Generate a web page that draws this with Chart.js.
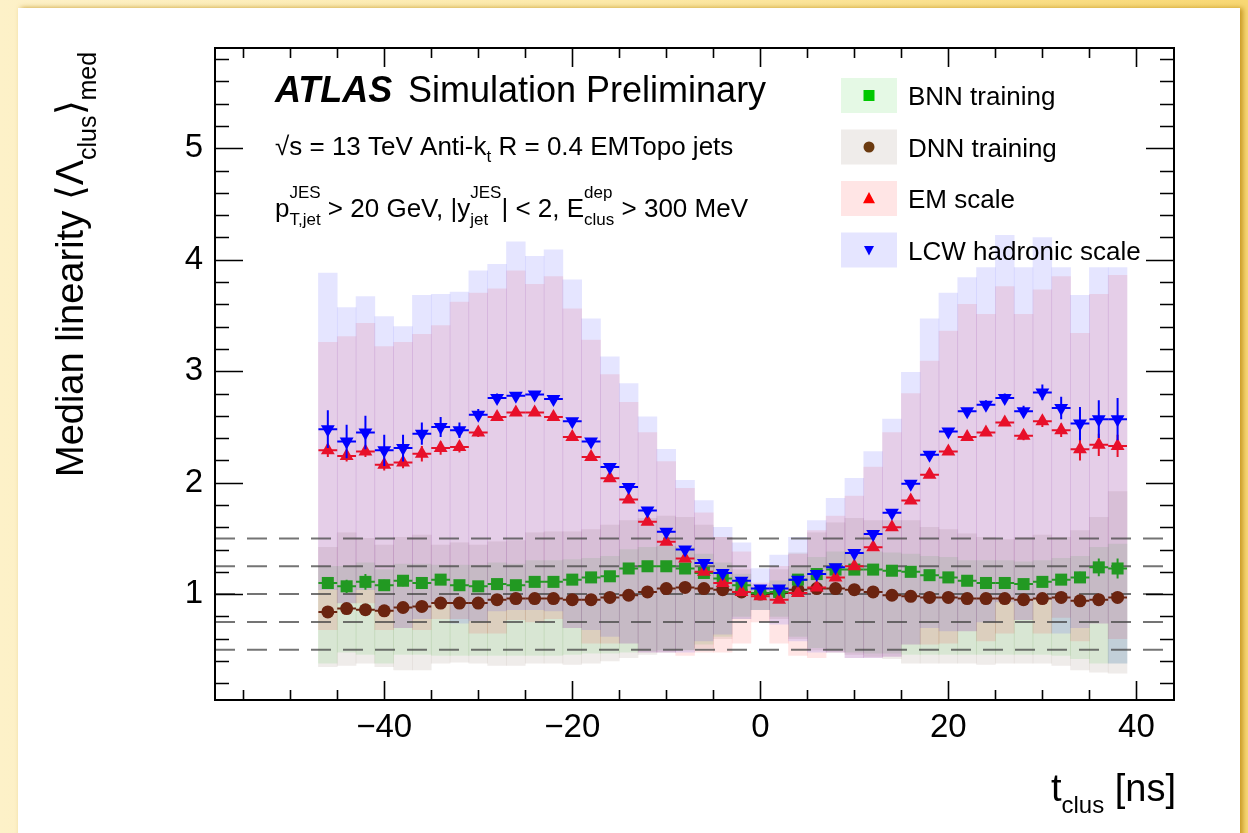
<!DOCTYPE html>
<html>
<head>
<meta charset="utf-8">
<title>Median linearity vs cluster time</title>
<script src="https://cdn.jsdelivr.net/npm/chart.js@4.4.1/dist/chart.umd.min.js"></script>
<style>
  html, body { margin: 0; padding: 0; }
  body {
    width: 1248px; height: 833px; overflow: hidden; position: relative;
    background: linear-gradient(90deg, #fdf1c8 0%, #fce9a8 50%, #f8d874 100%);
  }
  #panel {
    position: absolute; left: 18px; top: 8px; width: 1222px; height: 840px;
    background: #fff; box-shadow: 3px 0 5px rgba(190, 140, 20, 0.85);
  }
  #chart { position: absolute; left: 0; top: 0; }
</style>
</head>
<body>
<div id="panel"></div>
<canvas id="chart" width="1248" height="833"></canvas>
<script>
'use strict';

const FONT = "'Liberation Sans', Arial, Helvetica, sans-serif";

/* ── cluster-time bins (centres, ns) ── */
const binCentres = [
    -46, -44, -42, -40, -38, -36, -34, -32, -30, -28, -26,
    -24, -22, -20, -18, -16, -14, -12, -10, -8, -6, -4,
    -2, 0, 2, 4, 6, 8, 10, 12, 14, 16, 18,
    20, 22, 24, 26, 28, 30, 32, 34, 36, 38,
];
const binHalfWidth = 1;

/* ── medians + stat. errors ── */
const bnnMedian = [
    1.10, 1.07, 1.11, 1.08, 1.12, 1.10, 1.13, 1.08, 1.07, 1.09, 1.08,
    1.11, 1.11, 1.13, 1.15, 1.16, 1.23, 1.25, 1.25, 1.23, 1.19, 1.14,
    1.08, 1.01, 1.02, 1.13, 1.18, 1.22, 1.22, 1.22, 1.21, 1.20, 1.17,
    1.15, 1.12, 1.10, 1.10, 1.09, 1.11, 1.13, 1.15, 1.24, 1.23,
];
const bnnErr = [
    0.05, 0.06, 0.07, 0.05, 0.05, 0.04, 0.04, 0.03, 0.03, 0.03, 0.02,
    0.02, 0.02, 0.02, 0.02, 0.02, 0.02, 0.02, 0.02, 0.02, 0.02, 0.02,
    0.02, 0.02, 0.02, 0.02, 0.02, 0.02, 0.02, 0.02, 0.02, 0.02, 0.02,
    0.02, 0.02, 0.02, 0.02, 0.02, 0.03, 0.04, 0.05, 0.08, 0.09,
];
const dnnMedian = [
    0.84, 0.87, 0.86, 0.85, 0.88, 0.89, 0.92, 0.92, 0.92, 0.95, 0.96,
    0.96, 0.96, 0.95, 0.95, 0.97, 0.99, 1.02, 1.05, 1.06, 1.05, 1.04,
    1.02, 1.00, 1.01, 1.04, 1.05, 1.05, 1.04, 1.02, 0.99, 0.98, 0.97,
    0.97, 0.96, 0.96, 0.96, 0.95, 0.96, 0.97, 0.94, 0.95, 0.97,
];
const dnnErr = [
    0.03, 0.03, 0.03, 0.02, 0.02, 0.02, 0.02, 0.02, 0.02, 0.02, 0.02,
    0.02, 0.02, 0.02, 0.02, 0.02, 0.02, 0.02, 0.02, 0.02, 0.02, 0.02,
    0.02, 0.02, 0.02, 0.02, 0.02, 0.02, 0.02, 0.02, 0.02, 0.02, 0.02,
    0.02, 0.02, 0.02, 0.02, 0.02, 0.02, 0.03, 0.05, 0.04, 0.05,
];
const emMedian = [
    2.29, 2.24, 2.28, 2.16, 2.18, 2.26, 2.31, 2.32, 2.45, 2.59, 2.63,
    2.63, 2.59, 2.41, 2.23, 2.04, 1.85, 1.65, 1.47, 1.32, 1.20, 1.10,
    1.02, 0.98, 0.95, 1.01, 1.06, 1.15, 1.25, 1.42, 1.60, 1.84, 2.07,
    2.28, 2.41, 2.45, 2.54, 2.42, 2.55, 2.47, 2.30, 2.34, 2.33,
];
const emErr = [
    0.06, 0.05, 0.05, 0.05, 0.05, 0.07, 0.06, 0.05, 0.04, 0.03, 0.03,
    0.02, 0.02, 0.02, 0.02, 0.02, 0.02, 0.02, 0.02, 0.02, 0.02, 0.02,
    0.02, 0.02, 0.02, 0.02, 0.02, 0.02, 0.02, 0.02, 0.02, 0.02, 0.02,
    0.02, 0.03, 0.03, 0.03, 0.04, 0.05, 0.06, 0.10, 0.10, 0.10,
];
const lcwMedian = [
    2.48, 2.37, 2.45, 2.29, 2.31, 2.44, 2.50, 2.47, 2.61, 2.76, 2.78,
    2.79, 2.75, 2.55, 2.37, 2.14, 1.96, 1.75, 1.56, 1.40, 1.28, 1.19,
    1.12, 1.05, 1.05, 1.13, 1.18, 1.24, 1.37, 1.54, 1.73, 1.99, 2.25,
    2.46, 2.64, 2.70, 2.76, 2.64, 2.81, 2.67, 2.53, 2.57, 2.57,
];
const lcwErr = [
    0.17, 0.15, 0.15, 0.14, 0.12, 0.10, 0.09, 0.07, 0.05, 0.04, 0.03,
    0.03, 0.03, 0.03, 0.03, 0.03, 0.02, 0.02, 0.02, 0.02, 0.02, 0.02,
    0.02, 0.02, 0.02, 0.02, 0.02, 0.02, 0.02, 0.02, 0.02, 0.02, 0.03,
    0.03, 0.03, 0.04, 0.04, 0.05, 0.07, 0.10, 0.15, 0.17, 0.19,
];

/* ── spread bands (lower / upper edge per bin) ── */
const bnnBandLo = [
    0.38, 0.48, 0.46, 0.38, 0.46, 0.46, 0.45, 0.45, 0.45, 0.45, 0.45,
    0.45, 0.45, 0.46, 0.47, 0.47, 0.48, 0.49, 0.50, 0.50, 0.55, 0.62,
    0.80, 0.86, 0.80, 0.62, 0.52, 0.50, 0.48, 0.47, 0.47, 0.46, 0.46,
    0.46, 0.46, 0.46, 0.46, 0.46, 0.46, 0.45, 0.42, 0.38, 0.38,
];
const bnnBandHi = [
    1.25, 1.25, 1.28, 1.22, 1.27, 1.27, 1.26, 1.26, 1.26, 1.28, 1.27,
    1.30, 1.30, 1.31, 1.32, 1.34, 1.40, 1.42, 1.43, 1.42, 1.36, 1.28,
    1.18, 1.06, 1.12, 1.25, 1.33, 1.38, 1.38, 1.38, 1.37, 1.36, 1.34,
    1.33, 1.30, 1.30, 1.30, 1.29, 1.30, 1.32, 1.34, 1.42, 1.45,
];
const dnnBandLo = [
    0.35, 0.36, 0.38, 0.35, 0.32, 0.32, 0.38, 0.39, 0.38, 0.36, 0.36,
    0.38, 0.38, 0.37, 0.38, 0.40, 0.43, 0.46, 0.48, 0.50, 0.52, 0.60,
    0.78, 0.86, 0.78, 0.60, 0.50, 0.48, 0.46, 0.44, 0.42, 0.38, 0.38,
    0.38, 0.38, 0.37, 0.38, 0.38, 0.38, 0.36, 0.32, 0.30, 0.29,
];
const dnnBandHi = [
    1.42, 1.55, 1.50, 1.44, 1.51, 1.53, 1.44, 1.46, 1.44, 1.47, 1.48,
    1.55, 1.56, 1.56, 1.58, 1.62, 1.66, 1.68, 1.70, 1.69, 1.62, 1.51,
    1.22, 1.08, 1.22, 1.37, 1.55, 1.64, 1.68, 1.66, 1.66, 1.66, 1.60,
    1.58, 1.54, 1.51, 1.49, 1.51, 1.53, 1.51, 1.57, 1.69, 1.92,
];
const emBandLo = [
    0.68, 0.92, 0.92, 0.68, 0.70, 0.68, 0.78, 0.78, 0.65, 0.65, 0.77,
    0.75, 0.78, 0.70, 0.56, 0.56, 0.56, 0.48, 0.48, 0.45, 0.48, 0.48,
    0.56, 0.75, 0.56, 0.45, 0.43, 0.48, 0.43, 0.43, 0.44, 0.55, 0.55,
    0.56, 0.67, 0.58, 0.65, 0.77, 0.65, 0.79, 0.58, 0.74, 0.60,
];
const emBandHi = [
    3.26, 3.31, 3.43, 3.22, 3.26, 3.33, 3.41, 3.62, 3.70, 3.74, 3.90,
    3.78, 3.85, 3.56, 3.28, 2.97, 2.72, 2.45, 2.19, 1.95, 1.73, 1.51,
    1.38, 1.10, 1.25, 1.36, 1.57, 1.70, 1.88, 2.14, 2.45, 2.80, 3.09,
    3.36, 3.60, 3.51, 3.76, 3.51, 3.73, 3.85, 3.34, 3.69, 3.86,
];
const lcwBandLo = [
    1.04, 0.92, 1.04, 0.86, 0.70, 0.78, 0.92, 0.74, 0.76, 0.85, 0.86,
    0.86, 0.85, 0.70, 0.68, 0.62, 0.56, 0.48, 0.48, 0.48, 0.58, 0.64,
    0.78, 0.86, 0.73, 0.58, 0.48, 0.48, 0.43, 0.43, 0.44, 0.55, 0.70,
    0.67, 0.67, 0.75, 0.93, 0.77, 0.95, 0.65, 0.70, 0.74, 0.38,
];
const lcwBandHi = [
    3.88, 3.57, 3.67, 3.49, 3.40, 3.68, 3.69, 3.71, 3.90, 3.96, 4.16,
    4.03, 4.09, 3.82, 3.47, 3.13, 2.89, 2.59, 2.30, 2.02, 1.84, 1.60,
    1.46, 1.23, 1.35, 1.51, 1.66, 1.86, 2.04, 2.28, 2.57, 2.99, 3.47,
    3.70, 3.84, 3.93, 4.22, 3.93, 4.20, 3.93, 3.68, 3.93, 3.93,
];

/* ── axes ── */
const xMin = -58, xMax = 44;
const yMin = 0.05, yMax = 5.9;
const xMajorTicks = [-40, -20, 0, 20, 40];
const yMajorTicks = [1, 2, 3, 4, 5];
const xMinorStep = 5, yMinorStep = 0.2;
const refLines = [0.5, 0.75, 1, 1.25, 1.5];

const legendLabels = ['BNN training', 'DNN training', 'EM scale', 'LCW hadronic scale'];

const COLORS = {
    bnn: '#229922', dnn: '#6b2410', em: '#e8102a', lcw: '#0000ff',
    bnnKey: '#00c800', dnnKey: '#6b3a10', emKey: '#ff0000', lcwKey: '#0000ff',
    bnnBand: 'rgba(0, 200, 0, 0.10)',
    dnnBand: 'rgba(110, 80, 60, 0.11)',
    emBand: 'rgba(255, 0, 0, 0.10)',
    lcwBand: 'rgba(0, 0, 255, 0.10)',
    dash: 'rgba(70, 70, 70, 0.75)',
};

/* ── dataset builders ── */
function bandDataset(label, lo, hi, color) {
    return {
        type: 'bar', label,
        data: binCentres.map((x, i) => ({ x, y: [lo[i], hi[i]] })),
        backgroundColor: color, borderWidth: 0,
        grouped: false, barPercentage: 1, categoryPercentage: 1,
        order: 10,
    };
}

function pointDataset(label, med, err, color, style, radius, rotation, order) {
    return {
        type: 'scatter', label,
        data: binCentres.map((x, i) => ({ x, y: med[i] })),
        yErr: err,
        borderColor: color, backgroundColor: color,
        pointStyle: style, pointRadius: radius, pointRotation: rotation,
        pointBorderWidth: 0, showLine: false, order,
    };
}

const refDatasets = refLines.map(v => ({
    type: 'line',
    data: [{ x: xMin, y: v }, { x: xMax, y: v }],
    borderColor: COLORS.dash, borderWidth: 2, borderDash: [20, 12],
    pointRadius: 0, order: 6,
}));

/* ── error bars: drawn just before each marker set ── */
const errorBars = {
    id: 'errorBars',
    beforeDatasetDraw(chart, args) {
        const ds = chart.data.datasets[args.index];
        if (!ds.yErr) return;
        const xs = chart.scales.x, ys = chart.scales.y, ctx = chart.ctx;
        ctx.save();
        ctx.strokeStyle = ds.borderColor;
        ctx.lineWidth = 2;
        ds.data.forEach((p, i) => {
            const px = xs.getPixelForValue(p.x), py = ys.getPixelForValue(p.y);
            ctx.beginPath();
            ctx.moveTo(xs.getPixelForValue(p.x - binHalfWidth), py);
            ctx.lineTo(xs.getPixelForValue(p.x + binHalfWidth), py);
            ctx.moveTo(px, ys.getPixelForValue(p.y - ds.yErr[i]));
            ctx.lineTo(px, ys.getPixelForValue(p.y + ds.yErr[i]));
            ctx.stroke();
        });
        ctx.restore();
    },
};

/* ── text with sub/superscripts ── */
function rich(ctx, runs, x, y, draw) {
    let cx = x;
    for (const r of runs) {
        ctx.font = r.font;
        if (r.sup !== undefined || r.sub !== undefined) {
            const w1 = r.sup ? ctx.measureText(r.sup).width : 0;
            const w2 = r.sub ? ctx.measureText(r.sub).width : 0;
            if (draw && r.sup) ctx.fillText(r.sup, cx, y - r.rise);
            if (draw && r.sub) ctx.fillText(r.sub, cx, y + r.drop);
            cx += Math.max(w1, w2);
        } else {
            if (draw) ctx.fillText(r.text, cx, y + (r.dy || 0));
            cx += ctx.measureText(r.text).width;
        }
    }
    return cx - x;
}

function marker(ctx, kind, x, y, s, color) {
    ctx.fillStyle = color;
    ctx.beginPath();
    if (kind === 'rect') ctx.rect(x - s / 2, y - s / 2, s, s);
    else if (kind === 'circle') ctx.arc(x, y, s / 2, 0, Math.PI * 2);
    else if (kind === 'up') { ctx.moveTo(x, y - s * 0.55); ctx.lineTo(x + s / 2, y + s * 0.4); ctx.lineTo(x - s / 2, y + s * 0.4); }
    else { ctx.moveTo(x, y + s * 0.55); ctx.lineTo(x + s / 2, y - s * 0.4); ctx.lineTo(x - s / 2, y - s * 0.4); }
    ctx.closePath();
    ctx.fill();
}

/* ── frame, inward ticks, labels and key ── */
const decorations = {
    id: 'decorations',
    afterDraw(chart) {
        const { ctx, chartArea: a } = chart;
        const xs = chart.scales.x, ys = chart.scales.y;
        ctx.save();

        // frame + ticks
        ctx.strokeStyle = '#000';
        ctx.lineWidth = 2;
        ctx.strokeRect(a.left, a.top, a.right - a.left, a.bottom - a.top);
        ctx.lineWidth = 1.6;
        ctx.beginPath();
        for (let v = Math.ceil(yMin / yMinorStep) * yMinorStep; v < yMax; v += yMinorStep) {
            const major = Math.abs(v - Math.round(v)) < 1e-6;
            const len = major ? 28 : 14;
            const py = Math.round(ys.getPixelForValue(v)) + 0.5;
            ctx.moveTo(a.left, py); ctx.lineTo(a.left + len, py);
            ctx.moveTo(a.right, py); ctx.lineTo(a.right - len, py);
        }
        for (let v = Math.ceil(xMin / xMinorStep) * xMinorStep; v < xMax; v += xMinorStep) {
            const len = xMajorTicks.includes(v) ? 19 : 10;
            const px = Math.round(xs.getPixelForValue(v)) + 0.5;
            ctx.moveTo(px, a.bottom); ctx.lineTo(px, a.bottom - len);
            ctx.moveTo(px, a.top); ctx.lineTo(px, a.top + len);
        }
        ctx.stroke();

        ctx.fillStyle = '#000';
        ctx.textBaseline = 'alphabetic';
        ctx.textAlign = 'left';

        // experiment label
        ctx.font = `italic bold 36px ${FONT}`;
        ctx.fillText('ATLAS', 275, 102);
        ctx.font = `36px ${FONT}`;
        ctx.fillText('Simulation Preliminary', 408, 102);

        const f26 = `26px ${FONT}`, f17 = `17px ${FONT}`;
        rich(ctx, [
            { text: '\u221As = 13 TeV Anti-k', font: f26 },
            { sub: 't', font: f17, drop: 7 },
            { text: ' R = 0.4 EMTopo jets', font: f26 },
        ], 275, 155, true);
        rich(ctx, [
            { text: 'p', font: f26 },
            { sup: 'JES', sub: 'T,jet', font: f17, rise: 19, drop: 8 },
            { text: ' > 20 GeV, |y', font: f26 },
            { sup: 'JES', sub: 'jet', font: f17, rise: 19, drop: 8 },
            { text: '| < 2, E', font: f26 },
            { sup: 'dep', sub: 'clus', font: f17, rise: 19, drop: 8 },
            { text: ' > 300 MeV', font: f26 },
        ], 275, 217, true);

        // key
        const keys = [
            { band: COLORS.bnnBand, kind: 'rect', size: 11, color: COLORS.bnnKey },
            { band: COLORS.dnnBand, kind: 'circle', size: 11, color: COLORS.dnnKey },
            { band: COLORS.emBand, kind: 'up', size: 12, color: COLORS.emKey },
            { band: COLORS.lcwBand, kind: 'down', size: 10, color: COLORS.lcwKey },
        ];
        keys.forEach((k, i) => {
            const top = 78 + i * 51.5;
            ctx.fillStyle = k.band;
            ctx.fillRect(841, top, 56, 35);
            marker(ctx, k.kind, 869, top + 17.5, k.size, k.color);
            ctx.fillStyle = '#000';
            ctx.font = f26;
            ctx.fillText(legendLabels[i], 908, top + 27);
        });

        // x title, right-aligned
        const xTitle = [
            { text: 't', font: `38px ${FONT}` },
            { sub: 'clus', font: `24px ${FONT}`, drop: 12 },
            { text: ' [ns]', font: `38px ${FONT}` },
        ];
        const w = rich(ctx, xTitle, 0, 0, false);
        rich(ctx, xTitle, 1176 - w, 801, true);

        // y title, rotated, anchored at the bottom
        ctx.translate(83, 477);
        ctx.rotate(-Math.PI / 2);
        rich(ctx, [
            { text: 'Median linearity \u27E8\u039B', font: `38px ${FONT}` },
            { sub: 'clus', font: `25px ${FONT}`, drop: 13 },
            { text: '\u27E9', font: `38px ${FONT}` },
            { sub: 'med', font: `25px ${FONT}`, drop: 13 },
        ], 0, 0, true);

        ctx.restore();
    },
};

new Chart(document.getElementById('chart'), {
    type: 'bar',
    data: {
        datasets: [
            pointDataset('LCW hadronic scale', lcwMedian, lcwErr, COLORS.lcw, 'triangle', 8, 180, 1),
            pointDataset('EM scale', emMedian, emErr, COLORS.em, 'triangle', 8, 0, 2),
            pointDataset('BNN training', bnnMedian, bnnErr, COLORS.bnn, 'rect', 8.5, 0, 3),
            pointDataset('DNN training', dnnMedian, dnnErr, COLORS.dnn, 'circle', 6.5, 0, 4),
            ...refDatasets,
            bandDataset('LCW band', lcwBandLo, lcwBandHi, COLORS.lcwBand),
            bandDataset('EM band', emBandLo, emBandHi, COLORS.emBand),
            bandDataset('DNN band', dnnBandLo, dnnBandHi, COLORS.dnnBand),
            bandDataset('BNN band', bnnBandLo, bnnBandHi, COLORS.bnnBand),
        ],
    },
    options: {
        responsive: false,
        animation: false,
        events: [],
        layout: { padding: { top: 48, right: 74, bottom: 0, left: 0 } },
        plugins: { legend: { display: false }, tooltip: { enabled: false } },
        scales: {
            x: {
                type: 'linear', min: xMin, max: xMax, offset: false,
                grid: { display: false, drawTicks: false }, border: { display: false },
                afterBuildTicks: s => { s.ticks = xMajorTicks.map(value => ({ value })); },
                afterFit: s => { s.height = 133; },
                ticks: {
                    color: '#000', padding: 8, maxRotation: 0, autoSkip: false,
                    font: { family: FONT, size: 33 },
                    callback: v => (v < 0 ? '\u2212' + Math.abs(v) : String(v)),
                },
            },
            y: {
                type: 'linear', min: yMin, max: yMax,
                grid: { display: false, drawTicks: false }, border: { display: false },
                afterBuildTicks: s => { s.ticks = yMajorTicks.map(value => ({ value })); },
                afterFit: s => { s.width = 215; },
                ticks: { color: '#000', padding: 12, font: { family: FONT, size: 33 } },
            },
        },
    },
    plugins: [errorBars, decorations],
});
</script>
</body>
</html>
